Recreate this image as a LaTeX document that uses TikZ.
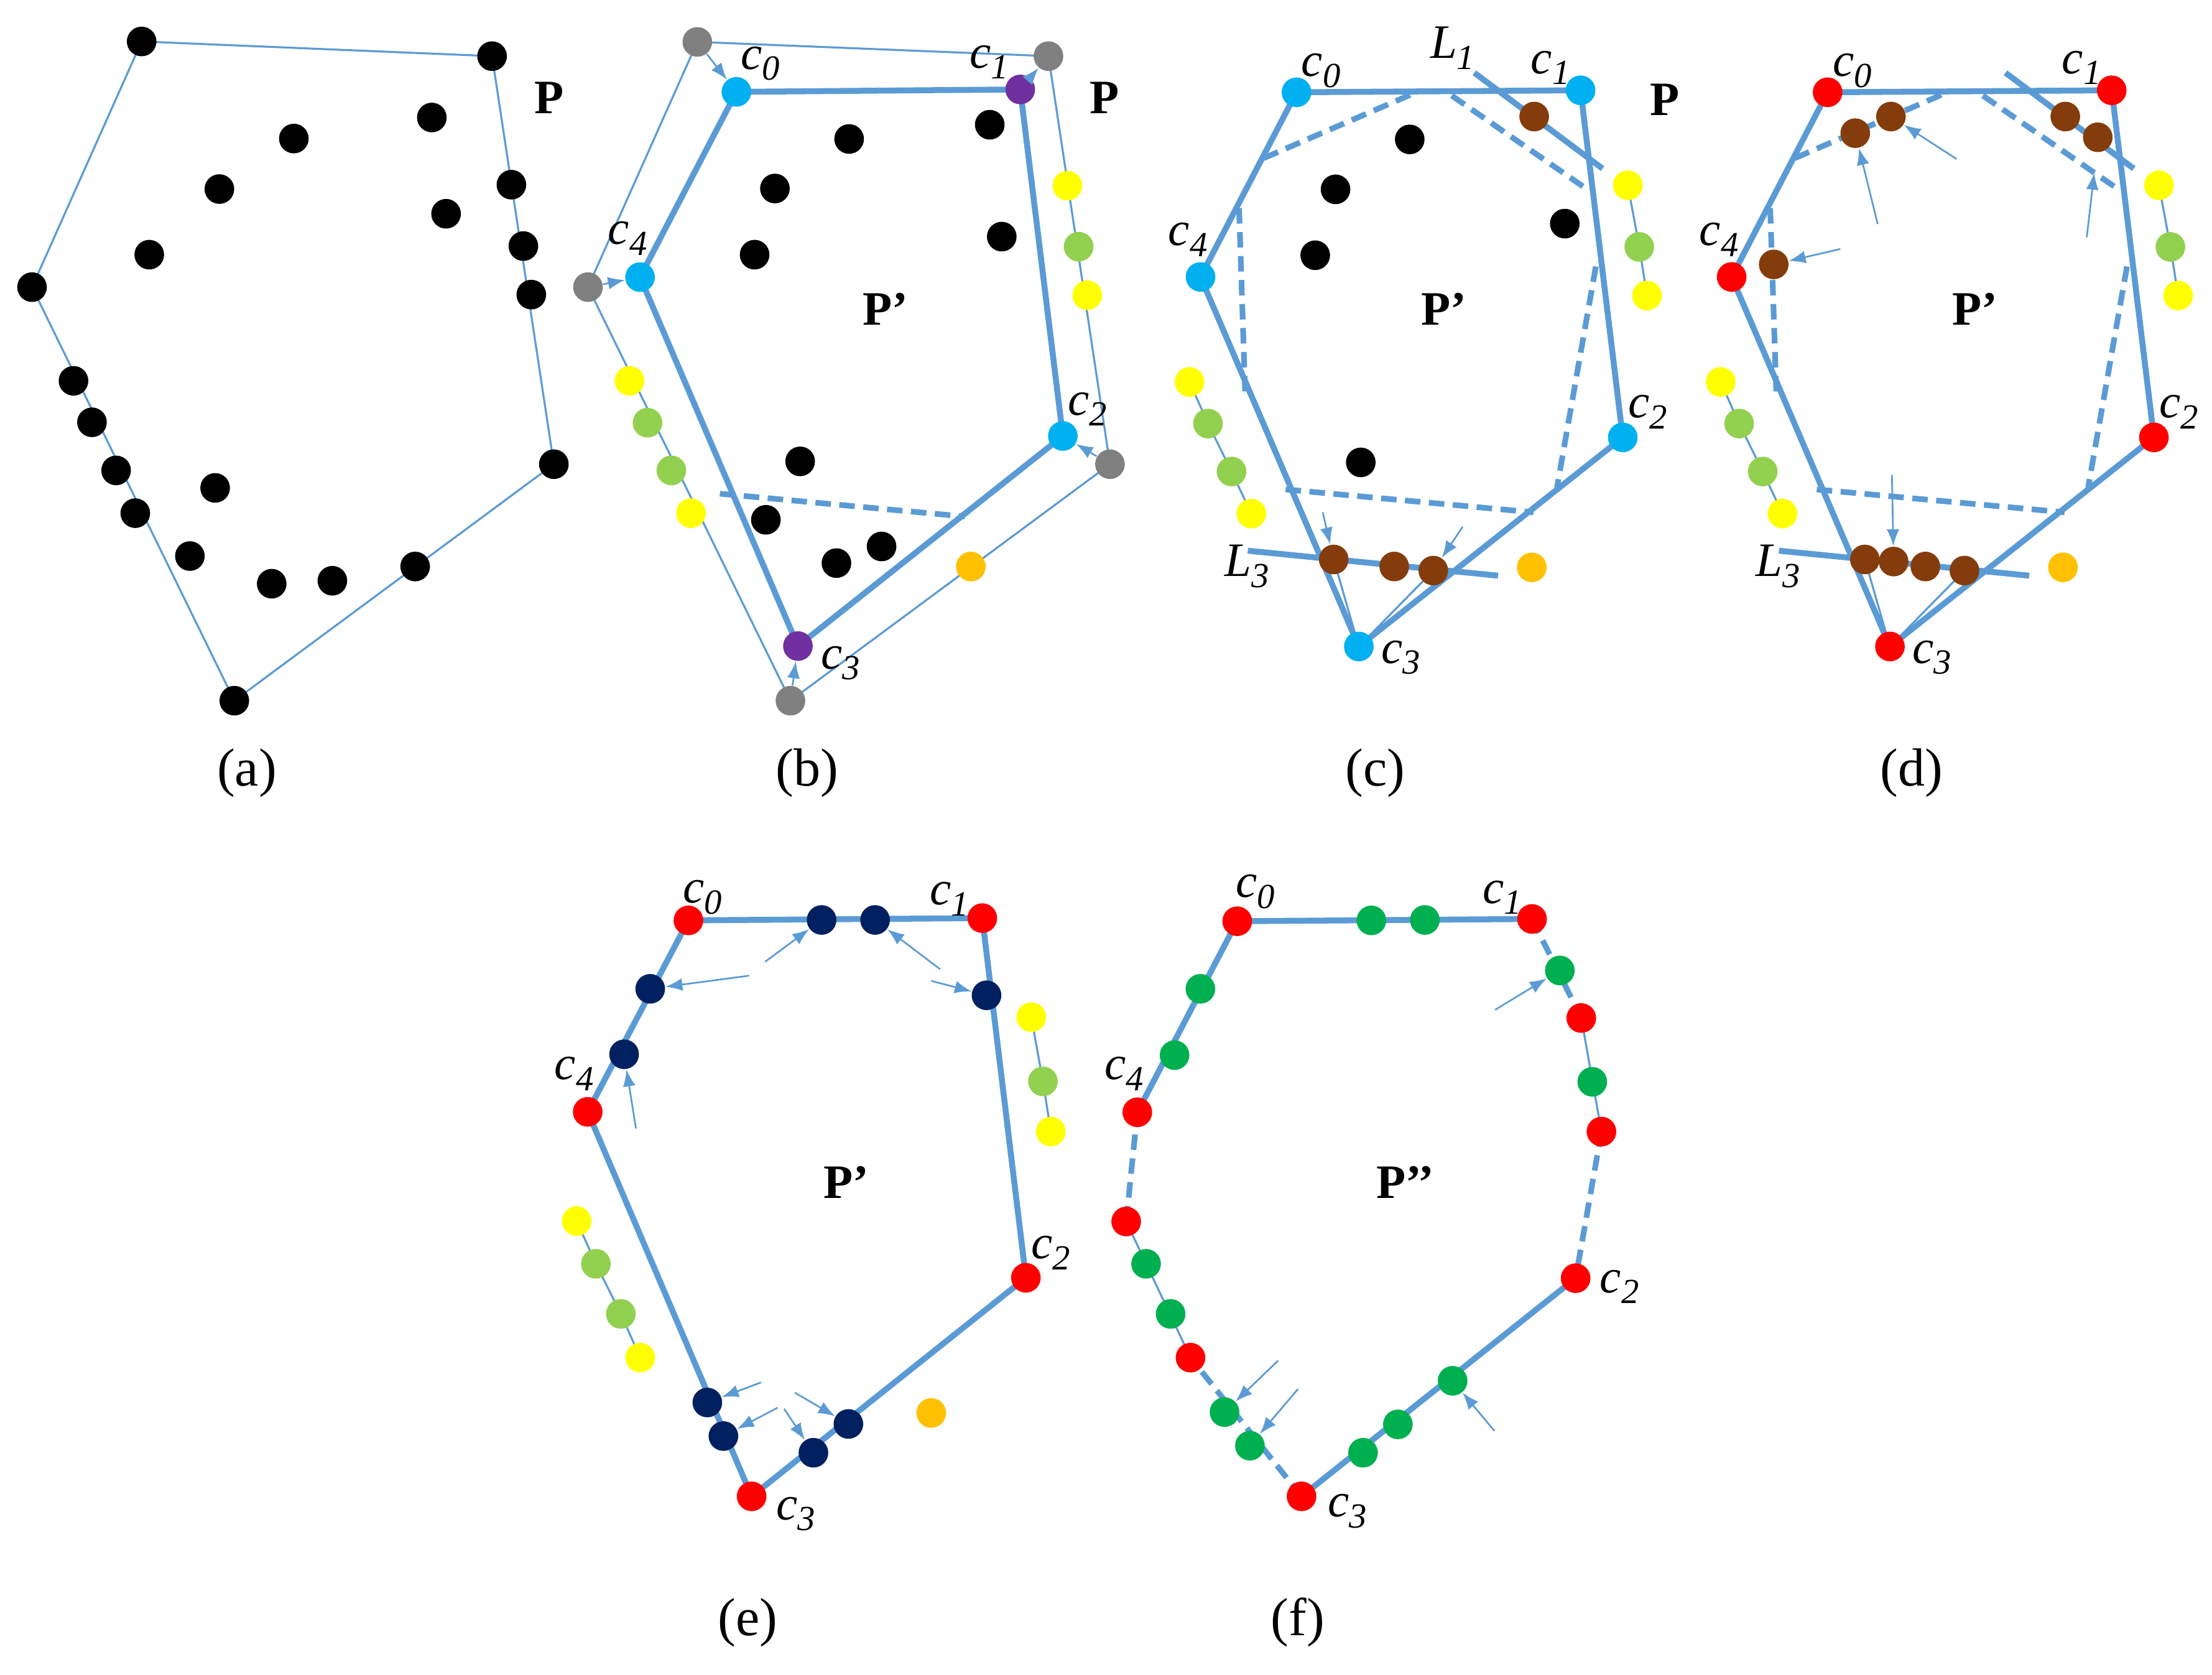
\documentclass[tikz,border=0pt]{standalone}
\usepackage{fontspec}
\setmainfont{Liberation Serif}
\usetikzlibrary{arrows.meta}
\pgfdeclarelayer{bg}\pgfsetlayers{bg,main}
\definecolor{lb}{HTML}{5B9BD5}
\definecolor{cyn}{HTML}{00B0F0}
\definecolor{pur}{HTML}{7030A0}
\definecolor{gry}{HTML}{808080}
\definecolor{yel}{HTML}{FFFF00}
\definecolor{gl}{HTML}{92D050}
\definecolor{org}{HTML}{FFC000}
\definecolor{brn}{HTML}{843C0C}
\definecolor{nav}{HTML}{002060}
\definecolor{rd}{HTML}{FF0000}
\definecolor{gd}{HTML}{00B050}
\newcommand\cl[2]{\textit{#1}\raisebox{-0.5ex}{\fontsize{12.5}{12.5}\selectfont\textit{#2}}}
\tikzset{
 dot/.style={circle,fill=#1,inner sep=0pt,minimum size=10.5pt},
 hull/.style={draw=lb,line width=2.1pt},
 thinl/.style={draw=lb,line width=0.7pt},
 dsh/.style={draw=lb,line width=2pt,dash pattern=on 5.5pt off 3pt},
 arr/.style={draw=lb,line width=0.6pt,-{Latex[length=6pt,width=4.5pt]}},
 lab/.style={font=\fontsize{17}{17}\selectfont,inner sep=0pt},
 pl/.style={font=\fontsize{17}{17}\selectfont\bfseries,inner sep=0pt},
 capt/.style={font=\fontsize{19}{19}\selectfont,inner sep=0pt}
}
\newcommand\cdpanel[1]{%
 \node[dot=#1] (v0) at (919,65.4) {};
 \node[dot=#1] (v1) at (1120.4,64) {};
 \node[dot=#1] (v2) at (1150.3,310) {};
 \node[dot=#1] (v3) at (963.2,458.2) {};
 \node[dot=#1] (v4) at (851,196.3) {};
 \node[dot=yel] (y1) at (1153.9,131.3) {};
 \node[dot=gl] (y2) at (1162,175) {};
 \node[dot=yel] (y3) at (1167.5,209.5) {};
 \node[dot=yel] (z1) at (843.2,270.7) {};
 \node[dot=gl] (z2) at (856.3,300.2) {};
 \node[dot=gl] (z3) at (873,334.2) {};
 \node[dot=yel] (z4) at (887,364) {};
 \node[dot=org] (or) at (1085.8,402.1) {};
 \node[dot=brn] (b1) at (1087.5,82.6) {};
 \node[dot=brn] (b2) at (945.4,396.5) {};
 \node[dot=brn] (b3) at (988.3,401.5) {};
 \node[dot=brn] (b4) at (1016,404.4) {};
 \coordinate (l1a) at (1045.1,51.6); \coordinate (l1b) at (1136,119.5);
 \coordinate (l3a) at (884.5,390.3); \coordinate (l3b) at (1061.9,408);
 \coordinate (d1a) at (895.8,112.1); \coordinate (d1b) at (999.7,67.2);
 \coordinate (d2a) at (1029.1,67.8); \coordinate (d2b) at (1126.4,135.1);
 \coordinate (d3a) at (878.3,147.5); \coordinate (d3b) at (882.6,277.5);
 \coordinate (d4a) at (911.3,346.9); \coordinate (d4b) at (1087,363.1);
 \coordinate (d5a) at (1131.2,188.9); \coordinate (d5b) at (1103.7,345.4);
 \node[lab] (t0) at (936.4,50) {\cl{c}{0}};
 \node[lab] (t1) at (1099,48) {\cl{c}{1}};
 \node[lab] (t2) at (1168,292) {\cl{c}{2}};
 \node[lab] (t3) at (993,466) {\cl{c}{3}};
 \node[lab] (t4) at (842,170) {\cl{c}{4}};
 \node[lab] (tl3) at (884,401.5) {\cl{L}{3}};
 \node[pl] (pp) at (1023.6,219) {P’};
 \begin{pgfonlayer}{bg}
  \draw[hull] (v0.center)--(v1.center)--(v2.center)--(v3.center)--(v4.center)--cycle;
  \draw[hull] (l1a)--(l1b);
  \draw[hull] (l3a)--(l3b);
  \draw[dsh] (d1a)--(d1b);
  \draw[dsh] (d2a)--(d2b);
  \draw[dsh] (d3a)--(d3b);
  \draw[dsh] (d4a)--(d4b);
  \draw[dsh] (d5a)--(d5b);
  \draw[thinl] (y1.center)--(y2.center)--(y3.center);
  \draw[thinl] (z1.center)--(z2.center)--(z3.center)--(z4.center);
  \draw[thinl] (v3.center)--(b2.center);
  \draw[thinl] (v3.center)--(b4.center);
 \end{pgfonlayer}
}
\begin{document}
\begin{tikzpicture}[x=0.5pt,y=-0.5pt]
\useasboundingbox (0,0) rectangle (1568,1187);
% ---------- (a)
\begin{scope}[name prefix=a-]
\foreach \n/\p in {h1/{100.4,29.4},h2/{348.8,39.8},h3/{392.6,329},h4/{166.1,496.6},h5/{22.7,203.5},
 r1/{362.5,130.9},r2/{371,174.4},r3/{376.6,208.8},l1/{52.1,269.9},l2/{65.2,299.3},l3/{82.3,333.4},l4/{95.9,363.7},
 m1/{294.3,401.5},i1/{306.1,83.3},i2/{208.3,98.2},i3/{155.5,134},i4/{316.2,151.5},i5/{105.8,180.5},
 i6/{152.5,345.8},i7/{134.6,394.1},i8/{192.6,413.7},i9/{235.6,411.6}}
 \node[dot=black] (\n) at (\p) {};
\begin{pgfonlayer}{bg}
\draw[thinl] (h1.center)--(h2.center)--(h3.center)--(h4.center)--(h5.center)--cycle;
\end{pgfonlayer}
\node[pl] (pa) at (389.2,69.2) {P};
\node[capt] (ca) at (175,548) {(a)};
\end{scope}
% ---------- (b)
\begin{scope}[name prefix=b-]
\node[dot=gry] (g0) at (494.3,29.7) {};
\node[dot=gry] (g1) at (743.2,39.8) {};
\node[dot=gry] (g2) at (786.8,329) {};
\node[dot=gry] (g3) at (560.3,496.6) {};
\node[dot=gry] (g4) at (416.8,203.5) {};
\node[dot=cyn] (v0) at (522,65.1) {};
\node[dot=pur] (v1) at (723.2,63.4) {};
\node[dot=cyn] (v2) at (753.4,309) {};
\node[dot=pur] (v3) at (565.6,457.9) {};
\node[dot=cyn] (v4) at (453.7,196.4) {};
\foreach \n/\p in {i1/{601.9,98.5},i2/{701.6,88.4},i3/{549.3,133.6},i4/{534.9,180.5},i5/{710.1,167.7},
 i6/{567.2,327},i7/{542.9,368.4},i8/{592.9,399.1},i9/{624.9,387.3}}
 \node[dot=black] (\n) at (\p) {};
\node[dot=yel] (y1) at (756.6,131.6) {};
\node[dot=gl] (y2) at (764.6,174.8) {};
\node[dot=yel] (y3) at (770.7,209.2) {};
\node[dot=yel] (z1) at (446.2,269.9) {};
\node[dot=gl] (z2) at (459,299.6) {};
\node[dot=gl] (z3) at (475.9,333.4) {};
\node[dot=yel] (z4) at (489.8,363.7) {};
\node[dot=org] (or) at (688.2,401.5) {};
\coordinate (da) at (510.3,349.9); \coordinate (db) at (683.9,366.1);
\begin{pgfonlayer}{bg}
\draw[thinl] (g0.center)--(g1.center)--(g2.center)--(g3.center)--(g4.center)--cycle;
\draw[hull] (v0.center)--(v1.center)--(v2.center)--(v3.center)--(v4.center)--cycle;
\draw[dsh] (da)--(db);
\end{pgfonlayer}
\draw[arr] (g0)--(v0);
\draw[arr] (g4)--(v4);
\draw[arr] (v1)--(g1);
\draw[arr] (g2)--(v2);
\draw[arr] (g3)--(v3);
\node[lab] (t0) at (539,45) {\cl{c}{0}};
\node[lab] (t1) at (701.3,44) {\cl{c}{1}};
\node[lab] (t2) at (771,290) {\cl{c}{2}};
\node[lab] (t3) at (596,470) {\cl{c}{3}};
\node[lab] (t4) at (444.9,169) {\cl{c}{4}};
\node[pl] (pb) at (782.8,69.2) {P};
\node[pl] (pp) at (627.8,219) {P’};
\node[capt] (cb) at (572,548) {(b)};
\end{scope}
% ---------- (c)
\begin{scope}[name prefix=c-]
\cdpanel{cyn}
\foreach \n/\p in {i1/{999.3,98.8},i2/{946.7,134.2},i3/{932.3,180.9},i4/{1109.2,158.5},i5/{964.6,327.7}}
 \node[dot=black] (\n) at (\p) {};
\coordinate (s1) at (937.6,363); \coordinate (s2) at (1036.8,373.4);
\draw[arr] (s1)--(b2);
\draw[arr] (s2)--(b4);
\node[lab] (tl1) at (1029.6,34) {\cl{L}{1}};
\node[pl] (pc) at (1180.2,70.8) {P};
\node[capt] (cc) at (975,548) {(c)};
\end{scope}
% ---------- (d)
\begin{scope}[name prefix=d-,shift={(376.5,0)}]
\cdpanel{rd}
\node[dot=brn] (e1) at (938.6,94.4) {};
\node[dot=brn] (e2) at (963.9,82.6) {};
\node[dot=brn] (e3) at (1110.5,97.3) {};
\node[dot=brn] (e4) at (880.8,187.4) {};
\node[dot=brn] (e5) at (965.8,398) {};
\coordinate (s1) at (1010.4,112.7);
\coordinate (s2) at (954.5,158.8);
\coordinate (s3) at (1102.7,168.2); \coordinate (s3e) at (1108,122.4);
\coordinate (s4) at (928,176.5);
\coordinate (s5) at (964.6,336.5);
\draw[arr] (s1)--(e2);
\draw[arr] (s2)--(e1);
\draw[arr] (s3)--(s3e);
\draw[arr] (s4)--(e4);
\draw[arr] (s5)--(e5);
\node[capt] (cd) at (978.5,548) {(d)};
\end{scope}
% ---------- (e)
\begin{scope}[name prefix=e-]
\node[dot=rd] (v0) at (488,652.3) {};
\node[dot=rd] (v1) at (696.3,650.7) {};
\node[dot=rd] (v2) at (727.2,905.6) {};
\node[dot=rd] (v3) at (532.8,1060.5) {};
\node[dot=rd] (v4) at (416.6,788) {};
\foreach \n/\p in {n1/{582.4,652},n2/{620.3,652},n3/{699.3,705.4},n4/{460.9,700.8},n5/{442.4,747.2},
 n6/{501.4,994},n7/{512.8,1017.8},n8/{576.6,1029.6},n9/{601.4,1009.2}}
 \node[dot=nav] (\n) at (\p) {};
\node[dot=yel] (y1) at (731,720.9) {};
\node[dot=gl] (y2) at (739.3,766.4) {};
\node[dot=yel] (y3) at (744.9,802) {};
\node[dot=yel] (z1) at (408.8,865.4) {};
\node[dot=gl] (z2) at (422.4,895.7) {};
\node[dot=gl] (z3) at (440.1,931.2) {};
\node[dot=yel] (z4) at (453.8,962.2) {};
\node[dot=org] (or) at (660.1,1001.4) {};
\begin{pgfonlayer}{bg}
\draw[hull] (v0.center)--(v1.center)--(v2.center)--(v3.center)--(v4.center)--cycle;
\draw[thinl] (y1.center)--(y2.center)--(y3.center);
\draw[thinl] (z1.center)--(z2.center)--(z3.center)--(z4.center);
\end{pgfonlayer}
\coordinate (s1) at (542.4,681.6); \coordinate (s2) at (531,691.5);
\coordinate (s3) at (666.4,686.9); \coordinate (s4) at (660.1,695.2);
\coordinate (s5) at (450.8,799.8); \coordinate (s6) at (539.4,979.8);
\coordinate (s7) at (551.2,997.7); \coordinate (s8) at (563.4,987);
\coordinate (s9) at (555.8,998.4);
\draw[arr] (s1)--(n1);
\draw[arr] (s2)--(n4);
\draw[arr] (s3)--(n2);
\draw[arr] (s4)--(n3);
\draw[arr] (s5)--(n5);
\draw[arr] (s6)--(n6);
\draw[arr] (s7)--(n7);
\draw[arr] (s8)--(n9);
\draw[arr] (s9)--(n8);
\node[lab] (t0) at (498,636) {\cl{c}{0}};
\node[lab] (t1) at (673,637) {\cl{c}{1}};
\node[lab] (t2) at (745,888) {\cl{c}{2}};
\node[lab] (t3) at (564,1073) {\cl{c}{3}};
\node[lab] (t4) at (407,761) {\cl{c}{4}};
\node[pl] (pp) at (600,838) {P’};
\node[capt] (ce) at (530,1150) {(e)};
\end{scope}
% ---------- (f)
\begin{scope}[name prefix=f-]
\node[dot=rd] (v0) at (877,652.9) {};
\node[dot=rd] (v1) at (1086,651.3) {};
\node[dot=rd] (v2) at (1116.9,905.9) {};
\node[dot=rd] (v3) at (922.6,1060.5) {};
\node[dot=rd] (v4) at (806.2,788.3) {};
\node[dot=rd] (r1) at (1120.9,721.5) {};
\node[dot=rd] (r2) at (1135.2,802) {};
\node[dot=rd] (r3) at (798.3,865.7) {};
\node[dot=rd] (r4) at (843.9,962.2) {};
\foreach \n/\p in {g1/{972.1,652.3},g2/{1010,652},g3/{1105.7,687.8},g4/{1128.7,766.7},g5/{850.9,700.8},
 g6/{832.6,747.8},g7/{812.4,895.7},g8/{829.8,931.2},g9/{868,1000.8},g10/{886,1024.6},
 g11/{966.2,1029.6},g12/{990.9,1009.5},g13/{1029.7,978.6}}
 \node[dot=gd] (\n) at (\p) {};
\begin{pgfonlayer}{bg}
\draw[hull] (v0.center)--(v1.center);
\draw[dsh] (v1.center)--(r1.center);
\draw[thinl] (r1.center)--(r2.center);
\draw[dsh] (r2.center)--(v2.center);
\draw[hull] (v2.center)--(v3.center);
\draw[dsh] (v3.center)--(r4.center);
\draw[thinl] (r4.center)--(r3.center);
\draw[dsh] (r3.center)--(v4.center);
\draw[hull] (v4.center)--(v0.center);
\end{pgfonlayer}
\coordinate (s1) at (1059.8,715.7); \coordinate (s2) at (906,964.3);
\coordinate (s3) at (920.1,984.4); \coordinate (s4) at (1059.3,1014.1);
\draw[arr] (s1)--(g3);
\draw[arr] (s2)--(g9);
\draw[arr] (s3)--(g10);
\draw[arr] (s4)--(g13);
\node[lab] (t0) at (890,632) {\cl{c}{0}};
\node[lab] (t1) at (1065,636) {\cl{c}{1}};
\node[lab] (t2) at (1148,912) {\cl{c}{2}};
\node[lab] (t3) at (955,1071) {\cl{c}{3}};
\node[lab] (t4) at (797,761) {\cl{c}{4}};
\node[pl] (pp) at (996,838) {P’’};
\node[capt] (cf) at (920,1150) {(f)};
\end{scope}
\end{tikzpicture}
\end{document}
